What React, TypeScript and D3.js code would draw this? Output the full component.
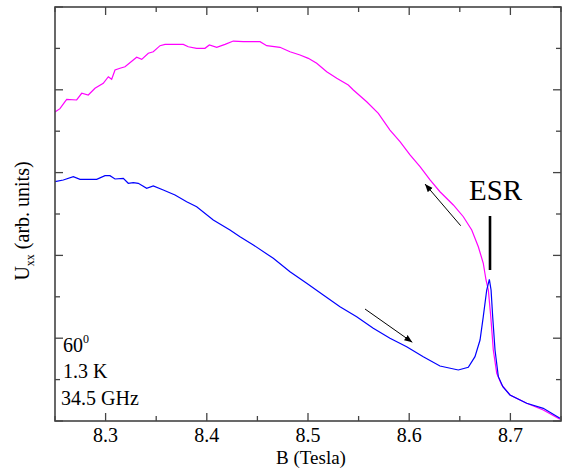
import React from "react";
import * as d3 from "d3";

const magentaB = [8.25, 8.2549, 8.2599, 8.2616, 8.2714, 8.2764, 8.2829, 8.2895, 8.2977, 8.3027, 8.306, 8.3093, 8.3142, 8.3192, 8.3307, 8.3357, 8.3422, 8.3471, 8.3538, 8.3587, 8.3768, 8.3817, 8.39, 8.3982, 8.4025, 8.4098, 8.418, 8.4262, 8.4361, 8.4526, 8.4592, 8.4723, 8.4822, 8.4921, 8.5003, 8.5086, 8.5185, 8.5284, 8.5398, 8.5448, 8.558, 8.5695, 8.581, 8.5909, 8.6008, 8.6107, 8.6206, 8.6304, 8.6436, 8.6535, 8.6618, 8.6683, 8.6732, 8.6759, 8.6782, 8.6806, 8.6831, 8.6865, 8.6914, 8.6996, 8.7161, 8.7325, 8.749];
const magentaU = [3.732, 3.772, 3.856, 3.885, 3.877, 3.958, 3.937, 4.018, 4.078, 4.158, 4.127, 4.239, 4.26, 4.279, 4.393, 4.368, 4.441, 4.46, 4.533, 4.549, 4.549, 4.52, 4.501, 4.501, 4.541, 4.513, 4.549, 4.589, 4.581, 4.581, 4.533, 4.513, 4.46, 4.42, 4.38, 4.32, 4.219, 4.139, 4.058, 3.998, 3.856, 3.716, 3.514, 3.373, 3.213, 3.071, 2.911, 2.769, 2.609, 2.467, 2.307, 2.105, 1.905, 1.703, 1.582, 1.26, 0.857, 0.576, 0.435, 0.314, 0.214, 0.133, 0.021];

const blueB = [8.25, 8.2582, 8.2681, 8.2747, 8.2912, 8.2994, 8.3043, 8.3093, 8.3175, 8.3224, 8.3274, 8.3323, 8.3406, 8.3471, 8.357, 8.3686, 8.3801, 8.39, 8.4064, 8.4229, 8.4328, 8.446, 8.4657, 8.4822, 8.4987, 8.5151, 8.5316, 8.5481, 8.5645, 8.581, 8.5975, 8.6139, 8.6304, 8.6485, 8.6584, 8.665, 8.67, 8.6732, 8.6766, 8.6792, 8.6809, 8.6825, 8.6848, 8.6881, 8.6927, 8.6996, 8.7161, 8.7325, 8.749];
const blueU = [2.89, 2.911, 2.95, 2.919, 2.919, 2.963, 2.963, 2.923, 2.931, 2.871, 2.878, 2.871, 2.81, 2.838, 2.79, 2.729, 2.649, 2.588, 2.428, 2.307, 2.226, 2.126, 1.965, 1.803, 1.663, 1.522, 1.38, 1.26, 1.12, 0.999, 0.897, 0.777, 0.664, 0.616, 0.649, 0.777, 0.978, 1.26, 1.582, 1.711, 1.582, 1.26, 0.857, 0.535, 0.411, 0.314, 0.214, 0.153, 0.033];

const xMajor = [8.3, 8.4, 8.5, 8.6, 8.7];
const xMinor = [8.25, 8.35, 8.45, 8.55, 8.65, 8.75];
const yMajor = [0, 1, 2, 3, 4, 5];
const yMinor = [0.5, 1.5, 2.5, 3.5, 4.5];

const annotations = ["60", "1.3 K", "34.5 GHz"];

export default function App() {
  const W = 562, H = 472;
  const L = 55, R = 561, T = 7, B = 421;
  const x = d3.scaleLinear().domain([8.25, 8.75]).range([L, R]);
  const y = d3.scaleLinear().domain([0, 5]).range([B, T]);
  const line = d3.line<[number, number]>().x(d => x(d[0])).y(d => y(d[1]));
  const mag = line(magentaB.map((b, i) => [b, magentaU[i]]));
  const blu = line(blueB.map((b, i) => [b, blueU[i]]));
  const axisColor = "#444";
  const font = '"Liberation Serif", "DejaVu Serif", serif';
  return (
    <svg width={W} height={H} style={{ position: "absolute", left: 0, top: 0, background: "#fff", fontFamily: font }}>
      <defs>
        <marker id="ah" viewBox="0 0 10 10" refX="10" refY="5" markerWidth="8" markerHeight="8" markerUnits="userSpaceOnUse" orient="auto">
          <path d="M0,1 L10,5 L0,9 Z" fill="#000" />
        </marker>
      </defs>
      <rect x={0} y={0} width={W} height={H} fill="#fff" />
      <path d={mag || ""} fill="none" stroke="#ff00ff" strokeWidth={1.2} />
      <path d={blu || ""} fill="none" stroke="#0000ff" strokeWidth={1.2} />
      <rect x={L} y={T} width={R - L} height={B - T} fill="none" stroke={axisColor} strokeWidth={1.6} />
      {xMajor.map(v => (
        <g key={"xm" + v}>
          <line x1={x(v)} x2={x(v)} y1={B} y2={B - 8} stroke={axisColor} strokeWidth={1.3} />
          <line x1={x(v)} x2={x(v)} y1={T} y2={T + 8} stroke={axisColor} strokeWidth={1.3} />
          <text x={x(v)} y={442} fontSize={20} textAnchor="middle" fill="#000" style={{ fontFamily: font }}>{v.toFixed(1)}</text>
        </g>
      ))}
      {xMinor.map(v => (
        <g key={"xn" + v}>
          <line x1={x(v)} x2={x(v)} y1={B} y2={B - 5} stroke={axisColor} strokeWidth={1.3} />
          <line x1={x(v)} x2={x(v)} y1={T} y2={T + 5} stroke={axisColor} strokeWidth={1.3} />
        </g>
      ))}
      {yMajor.map(v => (
        <g key={"ym" + v}>
          <line x1={L} x2={L + 8} y1={y(v)} y2={y(v)} stroke={axisColor} strokeWidth={1.3} />
          <line x1={R} x2={R - 8} y1={y(v)} y2={y(v)} stroke={axisColor} strokeWidth={1.3} />
        </g>
      ))}
      {yMinor.map(v => (
        <g key={"yn" + v}>
          <line x1={L} x2={L + 5} y1={y(v)} y2={y(v)} stroke={axisColor} strokeWidth={1.3} />
          <line x1={R} x2={R - 5} y1={y(v)} y2={y(v)} stroke={axisColor} strokeWidth={1.3} />
        </g>
      ))}
      <text x={(L + R) / 2 + 3} y={464} fontSize={19} textAnchor="middle" fill="#000" style={{ fontFamily: font }}>B (Tesla)</text>
      <text transform={`translate(29,${(T + B) / 2 + 7}) rotate(-90)`} fontSize={20} textAnchor="middle" fill="#000" style={{ fontFamily: font }}>
        U<tspan fontSize={12} dy={5}>xx</tspan><tspan dy={-5}> (arb. units)</tspan>
      </text>
      <text x={63} y={351.5} fontSize={20} fill="#000" style={{ fontFamily: font }}>{annotations[0]}<tspan fontSize={12} dy={-9}>0</tspan></text>
      <text x={63} y={377.7} fontSize={20} fill="#000" style={{ fontFamily: font }}>{annotations[1]}</text>
      <text x={61} y={405} fontSize={20} fill="#000" style={{ fontFamily: font }}>{annotations[2]}</text>
      <text x={469} y={200} fontSize={29} fill="#000" style={{ fontFamily: font }}>ESR</text>
      <line x1={490} x2={490} y1={216} y2={270} stroke="#000" strokeWidth={2.6} />
      <line x1={460.7} y1={225.7} x2={425} y2={184} stroke="#000" strokeWidth={1} markerEnd="url(#ah)" />
      <line x1={365} y1={309} x2={412.3} y2={342.3} stroke="#000" strokeWidth={1} markerEnd="url(#ah)" />
    </svg>
  );
}
